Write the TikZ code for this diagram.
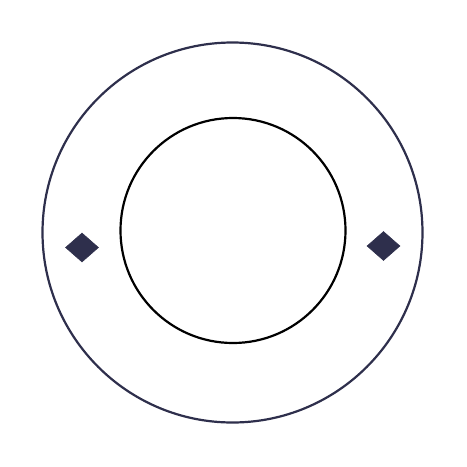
\documentclass[tikz,border=0pt]{standalone}
\usetikzlibrary{shapes.geometric}
\definecolor{navy}{HTML}{2E2F4C}
\tikzset{
  outerring/.style={circle, draw=navy, line width=2.2pt, minimum size=380pt, inner sep=0pt},
  innerring/.style={circle, draw=black, line width=2.2pt, minimum size=225pt, inner sep=0pt},
  gem/.style={diamond, fill=navy, draw=navy, line width=0.6pt, minimum width=33pt, minimum height=29pt, inner sep=0pt}
}
\begin{document}
\begin{tikzpicture}[x=1pt,y=-1pt]
\path[use as bounding box] (0,0) rectangle (467,467);
\node[outerring] (outer) at (232.5,232.5) {};
\node[innerring] (inner) at (233,230.5) {};
\node[gem] (left) at (82,247.5) {};
\node[gem] (right) at (383.5,246) {};
\end{tikzpicture}
\end{document}
